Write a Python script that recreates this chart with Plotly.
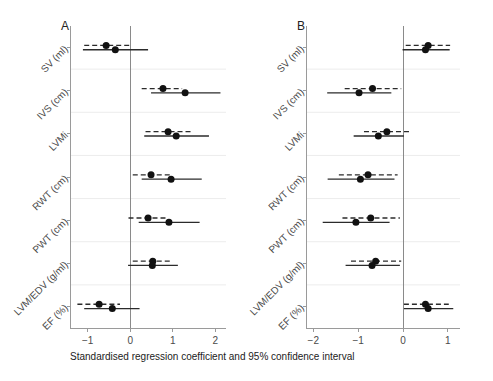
import plotly.graph_objects as go

labels = ["SV (ml)", "IVS (cm)", "LVMi", "RWT (cm)", "PWT (cm)", "LVM/EDV (g/ml)", "EF (%)"]

# Panel A
a_dash_est = [-0.565, 0.77, 0.89, 0.49, 0.42, 0.53, -0.73]
a_dash_lo = [-1.08, 0.27, 0.36, 0.06, -0.04, 0.06, -1.24]
a_dash_hi = [-0.02, 1.22, 1.44, 0.94, 0.86, 0.98, -0.24]
a_sol_est = [-0.35, 1.29, 1.08, 0.96, 0.91, 0.52, -0.42]
a_sol_lo = [-1.11, 0.49, 0.33, 0.27, 0.20, -0.05, -1.08]
a_sol_hi = [0.42, 2.12, 1.85, 1.68, 1.63, 1.12, 0.22]

# Panel B
b_dash_est = [0.56, -0.68, -0.36, -0.78, -0.72, -0.61, 0.50]
b_dash_lo = [0.06, -1.30, -0.87, -1.43, -1.35, -1.16, 0.02]
b_dash_hi = [1.05, -0.04, 0.16, -0.12, -0.07, -0.04, 1.02]
b_sol_est = [0.50, -0.98, -0.55, -0.95, -1.05, -0.69, 0.56]
b_sol_lo = [-0.01, -1.69, -1.10, -1.68, -1.79, -1.28, 0.02]
b_sol_hi = [1.04, -0.26, 0.02, -0.19, -0.30, -0.07, 1.12]

a_ticks = [-1, 0, 1, 2]
b_ticks = [-2, -1, 0, 1]

OFF = 0.05
LINE_COL = "#2b2b2b"
fig = go.Figure()


def add_panel(xa, ya, d_est, d_lo, d_hi, s_est, s_lo, s_hi):
    for est, lo, hi, off, dash in [(d_est, d_lo, d_hi, -OFF, "5px,3px"),
                                   (s_est, s_lo, s_hi, OFF, "solid")]:
        xs, ys = [], []
        for i in range(len(labels)):
            xs += [lo[i], hi[i], None]
            ys += [i + off, i + off, None]
        fig.add_trace(go.Scatter(x=xs, y=ys, mode="lines", xaxis=xa, yaxis=ya,
                                 line=dict(color=LINE_COL, width=1.3, dash=dash),
                                 showlegend=False, hoverinfo="skip"))
        fig.add_trace(go.Scatter(x=est, y=[i + off for i in range(len(labels))],
                                 mode="markers", xaxis=xa, yaxis=ya,
                                 marker=dict(color="#111111", size=7),
                                 showlegend=False))


add_panel("x", "y", a_dash_est, a_dash_lo, a_dash_hi, a_sol_est, a_sol_lo, a_sol_hi)
add_panel("x2", "y2", b_dash_est, b_dash_lo, b_dash_hi, b_sol_est, b_sol_lo, b_sol_hi)

W, H = 493, 381
ydom = [1 - 328 / H, 1 - 26 / H]
FAM = "Liberation Sans, Arial, sans-serif"
font = dict(family=FAM, size=10, color="#4a4a4a")

xcommon = dict(showgrid=False, zeroline=True, zerolinecolor="#8a8a8a", zerolinewidth=1,
               showline=True, linecolor="#9a9a9a", linewidth=1, ticks="outside",
               ticklen=3, tickcolor="#9a9a9a", tickfont=font, mirror=False, automargin=False)
ycommon = dict(showgrid=False, zeroline=False, range=[6.5, -0.5],
               tickvals=list(range(len(labels))), ticktext=labels, tickangle=-45,
               showline=True, linecolor="#9a9a9a", linewidth=1, ticks="outside",
               ticklen=3, tickcolor="#9a9a9a", tickfont=font, domain=ydom, automargin=False)

fig.update_layout(
    width=W, height=H, margin=dict(l=0, r=0, t=0, b=0, autoexpand=False),
    paper_bgcolor="white", plot_bgcolor="white", font=font,
    xaxis=dict(domain=[71 / W, 226 / W], range=[-1.39, 2.25], tickvals=a_ticks,
               anchor="y", **xcommon),
    yaxis=dict(anchor="x", **ycommon),
    xaxis2=dict(domain=[307 / W, 460 / W], range=[-2.14, 1.27], tickvals=b_ticks,
                anchor="y2", **xcommon),
    yaxis2=dict(anchor="x2", **ycommon),
)

shapes = []
for xr, yr in [("x domain", "y"), ("x2 domain", "y2")]:
    for k in range(len(labels) - 1):
        shapes.append(dict(type="line", xref=xr, yref=yr, x0=0, x1=1, y0=k + 0.5, y1=k + 0.5,
                           line=dict(color="#ececec", width=1), layer="below"))
fig.update_layout(shapes=shapes)

for txt, px in [("A", 65), ("B", 301)]:
    fig.add_annotation(text=txt, x=px / W, y=1 - 26 / H, xref="paper", yref="paper",
                       xanchor="center", yanchor="middle", showarrow=False,
                       font=dict(family=FAM, size=12, color="#222"))
fig.add_annotation(text="Standardised regression coefficient and 95% confidence interval",
                   x=212 / W, y=1 - 356 / H, xref="paper", yref="paper", showarrow=False,
                   xanchor="center", yanchor="middle",
                   font=dict(family=FAM, size=10, color="#222"))

fig.write_html("out.html", config={"displayModeBar": False},
               post_script="document.body.style.margin='0px';")
